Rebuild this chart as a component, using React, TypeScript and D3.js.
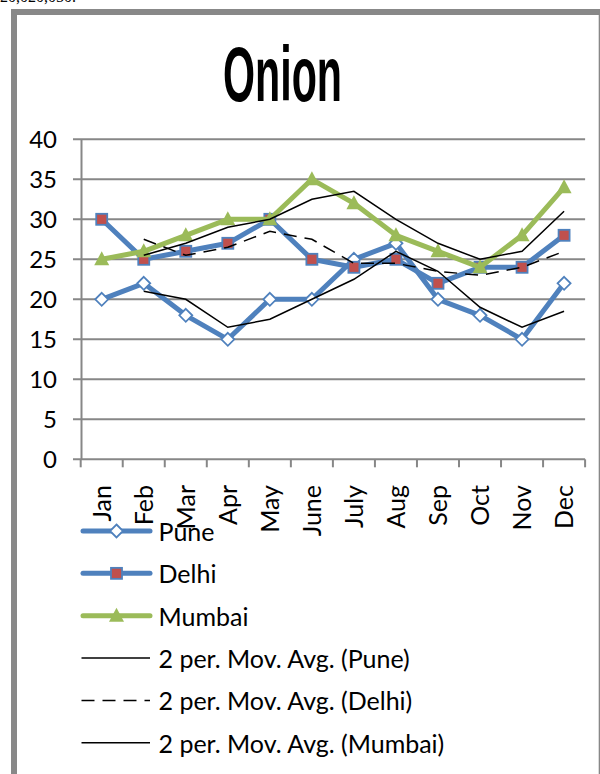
import React, { useRef, useEffect } from 'react'
import * as d3 from 'd3'

// Onion prices per month, three cities
const months = ['Jan', 'Feb', 'Mar', 'Apr', 'May', 'June', 'July', 'Aug', 'Sep', 'Oct', 'Nov', 'Dec']
const pune = [20, 22, 18, 15, 20, 20, 25, 27, 20, 18, 15, 22]
const delhi = [30, 25, 26, 27, 30, 25, 24, 25, 22, 24, 24, 28]
const mumbai = [25, 26, 28, 30, 30, 35, 32, 28, 26, 24, 28, 34]
const yTicks = [0, 5, 10, 15, 20, 25, 30, 35, 40]

const BLUE = '#4f81bd'
const RED = '#c0504d'
const GREEN = '#9bbb59'
const GRID = '#878787'
const FONT = 'Lato, "Open Sans", sans-serif'

// 2 period moving average, the way Excel draws its trendline
const movAvg = (vals: number[]) =>
	vals.map((v, i) => (i === 0 ? null : (v + vals[i - 1]) / 2))

const App = () => {
	const svgRef = useRef<SVGSVGElement>(null)

	useEffect(() => {
		const svg = d3.select(svgRef.current)
		svg.selectAll('*').remove()

		const x = d3.scaleBand().domain(months).range([80.7, 585.1])
		const y = d3.scaleLinear().domain([0, 40]).range([459.3, 139.3])
		const cx = (m: string) => (x(m) as number) + x.bandwidth() / 2

		// outer frame
		svg.append('rect')
			.attr('x', 14)
			.attr('y', 12)
			.attr('width', 587.7)
			.attr('height', 800)
			.attr('fill', 'white')
			.attr('stroke', '#888')
			.attr('stroke-width', 6)

		// clipped line of text above the frame
		svg.append('text')
			.attr('x', 0)
			.attr('y', 2)
			.style('font-family', 'serif')
			.style('font-size', '16px')
			.text('20,020,050.')

		svg.append('text')
			.attr('x', 223)
			.attr('y', 100.5)
			.attr('textLength', 119)
			.attr('lengthAdjust', 'spacingAndGlyphs')
			.style('font-family', '"Liberation Sans Narrow", "Liberation Sans", sans-serif')
			.style('font-weight', 'bold')
			.style('font-size', '77px')
			.text('Onion')

		// grid + y axis
		const g = svg.append('g')
		g.selectAll('.grid')
			.data(yTicks)
			.join('line')
			.attr('x1', 73)
			.attr('x2', 585.1)
			.attr('y1', (d) => y(d))
			.attr('y2', (d) => y(d))
			.attr('stroke', GRID)
			.attr('stroke-width', 2)
		g.append('line')
			.attr('x1', 81.5)
			.attr('x2', 81.5)
			.attr('y1', y(40))
			.attr('y2', y(0))
			.attr('stroke', GRID)
			.attr('stroke-width', 2)
		g.selectAll('.xtick')
			.data(d3.range(months.length + 1))
			.join('line')
			.attr('x1', (i) => 80.7 + i * x.step())
			.attr('x2', (i) => 80.7 + i * x.step())
			.attr('y1', y(0))
			.attr('y2', y(0) + 8)
			.attr('stroke', GRID)
			.attr('stroke-width', 2)

		g.selectAll('.ylab')
			.data(yTicks)
			.join('text')
			.attr('x', 57)
			.attr('y', (d) => y(d))
			.attr('dy', '0.36em')
			.attr('text-anchor', 'end')
			.style('font-family', FONT)
			.style('font-size', '24px')
			.text((d) => d)

		g.selectAll('.xlab')
			.data(months)
			.join('text')
			.attr('transform', (d) => `translate(${cx(d)},485) rotate(-90)`)
			.attr('dy', '0.36em')
			.attr('text-anchor', 'end')
			.style('font-family', FONT)
			.style('font-size', '25px')
			.text((d) => d)

		const line = d3
			.line<number | null>()
			.defined((d) => d !== null)
			.x((_, i) => cx(months[i]))
			.y((d) => y(d as number))

		const series = [
			{ name: 'Pune', vals: pune, color: BLUE, marker: 'diamond' },
			{ name: 'Delhi', vals: delhi, color: BLUE, marker: 'square' },
			{ name: 'Mumbai', vals: mumbai, color: GREEN, marker: 'triangle' },
		]

		const drawMarker = (sel: any, kind: string, px: number, py: number) => {
			if (kind === 'diamond') {
				sel.append('path')
					.attr('d', `M${px},${py - 6.5}L${px + 6.5},${py}L${px},${py + 6.5}L${px - 6.5},${py}Z`)
					.attr('fill', 'white')
					.attr('stroke', BLUE)
					.attr('stroke-width', 1.8)
			} else if (kind === 'square') {
				sel.append('rect')
					.attr('x', px - 5.5)
					.attr('y', py - 5.5)
					.attr('width', 11)
					.attr('height', 11)
					.attr('fill', RED)
					.attr('stroke', BLUE)
					.attr('stroke-width', 1.8)
			} else {
				sel.append('path')
					.attr('d', `M${px},${py - 8}L${px + 7.5},${py + 6}L${px - 7.5},${py + 6}Z`)
					.attr('fill', GREEN)
			}
		}

		series.forEach((s) => {
			const sg = svg.append('g')
			sg.append('path')
				.attr('d', line(s.vals))
				.attr('fill', 'none')
				.attr('stroke', s.color)
				.attr('stroke-width', 5)
				.attr('stroke-linejoin', 'round')
			s.vals.forEach((v, i) => drawMarker(sg, s.marker, cx(months[i]), y(v)))
		})

		const trends = [
			{ name: '2 per. Mov. Avg. (Pune)', vals: movAvg(pune), dash: null },
			{ name: '2 per. Mov. Avg. (Delhi)', vals: movAvg(delhi), dash: '13,8' },
			{ name: '2 per. Mov. Avg. (Mumbai)', vals: movAvg(mumbai), dash: null },
		]
		trends.forEach((t) => {
			svg.append('path')
				.attr('d', line(t.vals))
				.attr('fill', 'none')
				.attr('stroke', 'black')
				.attr('stroke-width', 1.5)
				.attr('stroke-dasharray', t.dash)
		})

		// legend
		const lg = svg.append('g')
		const rowY = (i: number) => 531 + i * 42.35
		series.forEach((s, i) => {
			lg.append('line')
				.attr('x1', 83)
				.attr('x2', 150)
				.attr('y1', rowY(i))
				.attr('y2', rowY(i))
				.attr('stroke', s.color)
				.attr('stroke-width', 5)
				.attr('stroke-linecap', 'round')
			drawMarker(lg, s.marker, 116.5, rowY(i))
		})
		trends.forEach((t, i) => {
			lg.append('line')
				.attr('x1', 81.5)
				.attr('x2', 150)
				.attr('y1', rowY(i + 3))
				.attr('y2', rowY(i + 3))
				.attr('stroke', 'black')
				.attr('stroke-width', 1.5)
				.attr('stroke-dasharray', t.dash)
		})
		lg.selectAll('.ltext')
			.data([...series.map((s) => s.name), ...trends.map((t) => t.name)])
			.join('text')
			.attr('x', 158.5)
			.attr('y', (_, i) => rowY(i) + 1)
			.attr('dy', '0.36em')
			.style('font-family', FONT)
			.style('font-size', '25px')
			.text((d) => d)
	}, [])

	return (
		<svg
			ref={svgRef}
			width={600}
			height={774}
			style={{ position: 'absolute', left: 0, top: 0, background: 'white' }}
		/>
	)
}

export default App
